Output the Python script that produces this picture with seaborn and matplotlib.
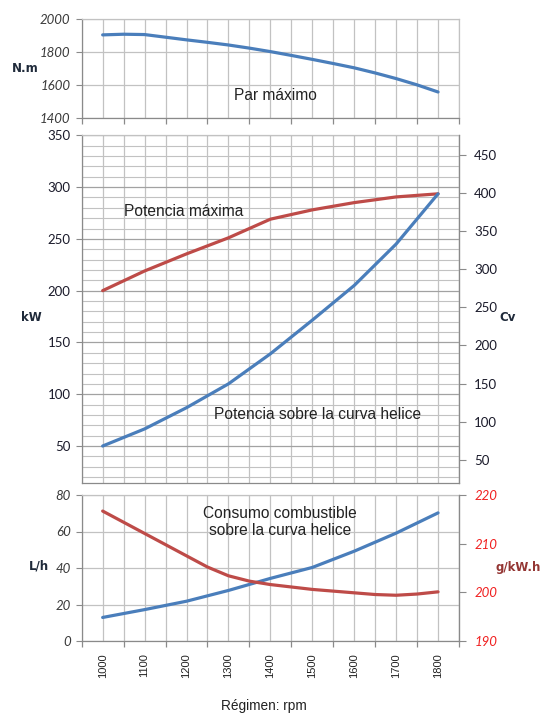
import numpy as np
import pandas as pd
import matplotlib
matplotlib.use("Agg")
import matplotlib.pyplot as plt
from matplotlib.ticker import MultipleLocator, FixedLocator
import seaborn as sns

# values
rpm = [1000, 1100, 1200, 1300, 1400, 1500, 1600, 1700, 1800]
rpm_fine = [1000, 1050, 1100, 1150, 1200, 1250, 1300, 1350, 1400,
            1450, 1500, 1550, 1600, 1650, 1700, 1750, 1800]
par_max = [1904, 1908, 1906, 1890, 1874, 1859, 1843, 1824, 1803,
           1780, 1756, 1731, 1705, 1674, 1640, 1602, 1559]                # N.m
pot_max = [200, 219, 235.5, 251, 269, 278, 285, 290.5, 293.5]           # kW
pot_helice = [50, 66.5, 87, 110, 139, 171.5, 205, 245, 293.5]           # kW
consumo_lh = [12.9, 17.2, 21.8, 27.7, 34.3, 40.3, 49.2, 59.1, 70.2]     # L/h
consumo_esp = [216.7, 214.4, 212.1, 209.8, 207.5, 205.2, 203.4, 202.3, 201.6,
               201.1, 200.6, 200.25, 199.9, 199.55, 199.4, 199.65, 200.1]  # g/kW.h

rpm_labels = [str(r) for r in rpm]

BLUE = "#4a7ebb"
RED = "#be4b48"
GRID = "#c2c2c2"
SPINE = "#8a8a8a"
LW = 2.3

sns.set_style("white")
plt.rcParams["font.family"] = ["Liberation Sans", "DejaVu Sans"]

W, H = 544, 713
def fx(x):
    return x / W
def fy(y):
    return 1 - y / H

fig = plt.figure(figsize=(5.44, 7.13), dpi=100)
L, R = 81.7, 459
def panel(top, bottom):
    return fig.add_axes([fx(L), fy(bottom), (R - L) / W, (bottom - top) / H])

ax_top = panel(19, 118.3)
ax_mid = panel(135.3, 483.3)
ax_bot = panel(495, 641)

tick_font = ["Lato", "DejaVu Sans"]

def setup_x(ax, labels=False, marks=True):
    ax.set_xlim(950, 1850)
    ax.xaxis.set_major_locator(FixedLocator(rpm))
    ax.xaxis.set_minor_locator(FixedLocator(np.arange(950, 1851, 100)))
    ax.grid(True, which="both", axis="x", color=GRID, lw=0.9)
    ax.tick_params(axis="x", which="major", length=0, pad=9)
    ax.tick_params(axis="x", which="minor", length=4 if marks else 0,
                   color=SPINE, width=0.9, bottom=True, direction="out")
    if labels:
        ax.set_xticklabels(rpm_labels, rotation=90, fontsize=8,
                           family="Liberation Sans", color="#222222")
    else:
        ax.set_xticklabels([])
    ax.set_xlabel("")
    for s in ["top", "right"]:
        ax.spines[s].set_color(GRID)
        ax.spines[s].set_linewidth(0.9)
    for s in ["left", "bottom"]:
        ax.spines[s].set_color(SPINE)
        ax.spines[s].set_linewidth(0.9)
    ax.set_axisbelow(True)

# ---- top: par maximo
sns.lineplot(x=rpm_fine, y=par_max, ax=ax_top, color=BLUE, lw=LW)
setup_x(ax_top)
ax_top.set_ylim(1400, 2000)
ax_top.yaxis.set_major_locator(MultipleLocator(200))
ax_top.grid(True, which="major", axis="y", color=GRID, lw=0.9)
ax_top.tick_params(axis="y", left=True, length=4, color=SPINE, pad=4)
for t in ax_top.get_yticklabels():
    t.set_fontstyle("italic")
    t.set_fontsize(9.5)
    t.set_family(tick_font)
    t.set_color("#3a3a3a")

# ---- middle: potencias
sns.lineplot(x=rpm, y=pot_max, ax=ax_mid, color=RED, lw=LW)
sns.lineplot(x=rpm, y=pot_helice, ax=ax_mid, color=BLUE, lw=LW)
setup_x(ax_mid, marks=False)
ax_mid.set_ylim(14, 350)
ax_mid.yaxis.set_major_locator(FixedLocator(np.arange(50, 351, 50)))
ax_mid.yaxis.set_minor_locator(FixedLocator(np.arange(20, 351, 10)))
ax_mid.grid(True, which="major", axis="y", color="#a2a2a2", lw=0.9)
ax_mid.grid(True, which="minor", axis="y", color=GRID, lw=0.8)
ax_mid.tick_params(axis="y", which="major", left=True, length=4, color=SPINE, pad=4)
ax_mid.tick_params(axis="y", which="minor", length=0)
for t in ax_mid.get_yticklabels():
    t.set_fontsize(9.5)
    t.set_family(tick_font)
    t.set_color("#1a1a2a")

ax_cv = ax_mid.twinx()
ax_cv.set_ylim(14 * 1.36, 350 * 1.36)
ax_cv.yaxis.set_major_locator(FixedLocator(np.arange(50, 451, 50)))
ax_cv.grid(False)
ax_cv.tick_params(axis="y", right=True, length=5, color=SPINE, pad=6)
ax_cv.spines["right"].set_color(SPINE)
ax_cv.spines["right"].set_linewidth(0.9)
for s in ["top", "left", "bottom"]:
    ax_cv.spines[s].set_visible(False)
for t in ax_cv.get_yticklabels():
    t.set_fontsize(9.5)
    t.set_family(tick_font)
    t.set_color("#1a1a2a")

# ---- bottom: consumo
sns.lineplot(x=rpm, y=consumo_lh, ax=ax_bot, color=BLUE, lw=LW)
setup_x(ax_bot, labels=True)
ax_bot.set_ylim(0, 80)
ax_bot.yaxis.set_major_locator(MultipleLocator(20))
ax_bot.grid(True, which="major", axis="y", color=GRID, lw=0.9)
ax_bot.tick_params(axis="y", left=True, length=4, color=SPINE, pad=4)
for t in ax_bot.get_yticklabels():
    t.set_fontstyle("italic")
    t.set_fontsize(9.5)
    t.set_family(tick_font)
    t.set_color("#3a3a3a")

ax_gk = ax_bot.twinx()
sns.lineplot(x=rpm_fine, y=consumo_esp, ax=ax_gk, color=RED, lw=LW)
ax_gk.set_ylim(190, 220)
ax_gk.yaxis.set_major_locator(MultipleLocator(10))
ax_gk.grid(False)
ax_gk.set_ylabel("")
ax_gk.tick_params(axis="y", right=True, length=5, color=SPINE, pad=6)
ax_gk.spines["right"].set_color(SPINE)
ax_gk.spines["right"].set_linewidth(0.9)
for s in ["top", "left", "bottom"]:
    ax_gk.spines[s].set_visible(False)
for t in ax_gk.get_yticklabels():
    t.set_fontstyle("italic")
    t.set_fontsize(9.5)
    t.set_family(tick_font)
    t.set_color("#f02020")

for ax in [ax_top, ax_mid, ax_bot]:
    ax.set_ylabel("")

# ---- texts
ann = dict(ha="center", va="center", fontsize=11.2, color="#222222", family="Liberation Sans")
fig.text(fx(275), fy(95), "Par máximo", **ann)
fig.text(fx(184), fy(211), "Potencia máxima", **ann)
fig.text(fx(318), fy(415), "Potencia sobre la curva helice", **ann)
fig.text(fx(280), fy(522), "Consumo combustible\nsobre la curva helice", linespacing=1.1, **ann)
fig.text(fx(264), fy(706), "Régimen: rpm", ha="center", va="center", fontsize=9.8, color="#222222")

lab = dict(ha="center", va="center", fontsize=8.5, fontweight="bold", family="DejaVu Sans")
fig.text(fx(25), fy(68), "N.m", color="#1f2a3a", **lab)
fig.text(fx(31), fy(318), "kW", color="#1f2a3a", **lab)
fig.text(fx(508), fy(318), "Cv", color="#1f2a3a", **lab)
fig.text(fx(39), fy(566), "L/h", color="#1f2a3a", **lab)
fig.text(fx(518), fy(568), "g/kW.h", color="#943634", **lab)

fig.savefig("out.png", dpi=100)
